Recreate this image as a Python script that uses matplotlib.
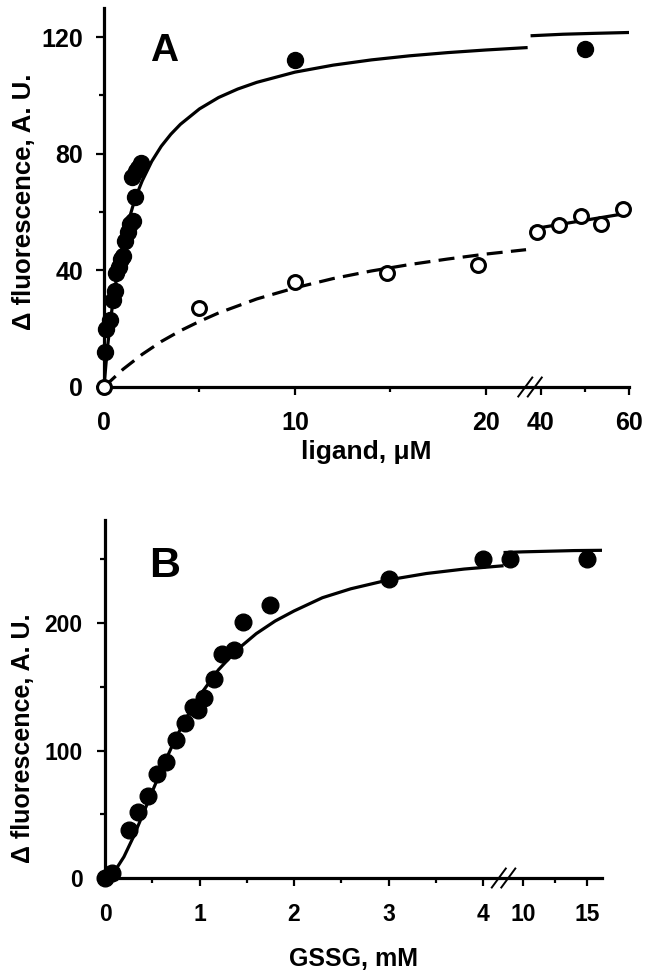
import numpy as np
import matplotlib
matplotlib.use("Agg")
import matplotlib.pyplot as plt
from matplotlib.ticker import FixedLocator, FixedFormatter

plt.rcParams['font.family'] = ['Liberation Sans', 'DejaVu Sans']
plt.rcParams['font.weight'] = 'bold'

# ---------------- Panel A data (ligand, uM) ----------------
xA_filled = [0.05, 0.1, 0.3, 0.45, 0.55, 0.65, 0.8, 0.9, 1.0, 1.1, 1.25, 1.35,
             1.5, 1.6, 1.45, 1.65, 1.8, 1.95, 10, 50]
yA_filled = [12, 20, 23, 30, 33, 39, 41, 44, 45, 50, 53, 56,
             57, 65, 72, 74, 75, 77, 112, 116]
xA_open = [0, 5, 10, 14.8, 19.6, 39, 44, 49, 53.6, 58.6]
yA_open = [0, 27, 36, 39, 42, 53, 55.5, 58.5, 56, 61]

# fitted curves
xA_fit1 = [0, 0.1, 0.2, 0.35, 0.5, 0.75, 1, 1.25, 1.5, 1.75, 2, 2.5, 3, 3.5, 4,
           5, 6, 7, 8, 10, 12, 14, 16, 18, 20, 22.1]
yA_fit1 = [0, 7.7, 14.5, 23.3, 30.8, 41.1, 49.4, 56.1, 61.8, 66.6, 70.7, 77.4,
           82.6, 86.7, 90.1, 95.4, 99.3, 102.2, 104.5, 108.0, 110.4, 112.2,
           113.6, 114.7, 115.6, 116.4]
xA_fit2 = [38, 45, 52, 60]
yA_fit2 = [120.5, 121.0, 121.3, 121.6]
xA_dash1 = [0, 1, 2, 3, 4, 5, 6, 8, 10, 12, 14, 16, 18, 20, 22.1]
yA_dash1 = [0, 6.1, 11.2, 15.6, 19.3, 22.5, 25.4, 30.2, 34.0, 37.2, 39.8,
            42.0, 43.9, 45.6, 47.1]
xA_line2 = [38, 60]
yA_line2 = [54.2, 59.7]

xA_ticks = [0, 10, 20, 40, 60]
xA_ticklabels = ['0', '10', '20', '40', '60']
xA_minor = [5, 15, 50]
yA_ticks = [0, 40, 80, 120]
yA_minor = [20, 60, 100]

# ---------------- Panel B data (GSSG, mM) ----------------
xB = [0, 0.07, 0.25, 0.35, 0.45, 0.55, 0.65, 0.75, 0.85, 0.93, 0.98, 1.05,
      1.15, 1.24, 1.36, 1.46, 1.75, 3.0, 4.0, 9.0, 15.0]
yB = [0, 4, 38, 52, 64, 82, 91, 108, 122, 134, 132, 141,
      156, 176, 179, 201, 214, 235, 250, 250, 250]
xB_fit1 = [0, 0.1, 0.2, 0.3, 0.4, 0.5, 0.6, 0.7, 0.8, 0.9, 1.0, 1.2, 1.4, 1.6,
           1.8, 2.0, 2.3, 2.6, 3.0, 3.4, 3.8, 4.2]
yB_fit1 = [0, 5, 16.6, 32.2, 49.8, 67.9, 85.5, 102, 117.2, 130.8, 143, 163.4,
           179.3, 191.8, 201.7, 209.6, 220, 227, 234, 239, 242.5, 245]
xB_fit2 = [8.6, 10, 12, 14, 16.1]
yB_fit2 = [255.5, 256, 256.5, 257, 257.2]

xB_ticks = [0, 1, 2, 3, 4, 10, 15]
xB_ticklabels = ['0', '1', '2', '3', '4', '10', '15']
xB_minor = [0.5, 1.5, 2.5, 3.5, 12.5]
yB_ticks = [0, 100, 200]
yB_minor = [50, 150, 250]

# broken-axis scale knots (data -> compressed axis units)
A_knots_x = [-1000, 22.2, 38, 1000]
A_knots_u = [-1000, 22.2, 22.42, 22.88 + 960 * 0.2305]
B_knots_x = [-1000, 4.2, 8.6, 1000]
B_knots_u = [-1000, 4.2, 4.233, 4.423 + 990 * 0.1354]


def broken_scale(ax, kx, ku):
    kx = np.asarray(kx, float)
    ku = np.asarray(ku, float)
    ax.set_xscale('function',
                  functions=(lambda x: np.interp(x, kx, ku),
                             lambda u: np.interp(u, ku, kx)))


def style(ax, xt, xtl, xm, yt, ym, xlim, ylim, fs, xpad, ypad):
    for s in ['top', 'right']:
        ax.spines[s].set_visible(False)
    for s in ['left', 'bottom']:
        ax.spines[s].set_linewidth(2.3)
    ax.set_xlim(*xlim)
    ax.set_ylim(*ylim)
    ax.xaxis.set_major_locator(FixedLocator(xt))
    ax.xaxis.set_major_formatter(FixedFormatter(xtl))
    ax.xaxis.set_minor_locator(FixedLocator(xm))
    ax.yaxis.set_major_locator(FixedLocator(yt))
    ax.yaxis.set_minor_locator(FixedLocator(ym))
    ax.tick_params(which='major', direction='out', length=6, width=1.6,
                   labelsize=fs)
    ax.tick_params(which='minor', direction='out', length=3.5, width=1.6)
    ax.tick_params(axis='x', which='major', pad=xpad)
    ax.tick_params(axis='y', which='major', pad=ypad)
    for lab in ax.get_xticklabels() + ax.get_yticklabels():
        lab.set_fontweight('bold')


def break_marks(ax, xgap, fig):
    fx = ax.transAxes.inverted().transform(ax.transData.transform((xgap, 0)))[0]
    pos = ax.get_position()
    wpx = pos.width * fig.get_figwidth() * fig.dpi
    hpx = pos.height * fig.get_figheight() * fig.dpi
    for off in (-4.75, 4.75):
        cx = fx + off / wpx
        ax.plot([cx - 7 / wpx, cx + 7 / wpx], [-9.5 / hpx, 9.5 / hpx],
                transform=ax.transAxes, color='k', lw=1.4, clip_on=False,
                zorder=6)


fig = plt.figure(figsize=(6.5, 9.75), dpi=100)
axA = fig.add_axes([104 / 650, 1 - 387 / 975, (629 - 104) / 650, (387 - 8) / 975])
axB = fig.add_axes([105 / 650, 1 - 878 / 975, (602 - 105) / 650, (878 - 520) / 975])

broken_scale(axA, A_knots_x, A_knots_u)
broken_scale(axB, B_knots_x, B_knots_u)

# ---- Panel A ----
lw = 2.3
axA.plot(xA_fit1, yA_fit1, color='k', lw=lw, zorder=2)
axA.plot(xA_fit2, yA_fit2, color='k', lw=lw, zorder=2)
axA.plot(xA_dash1, yA_dash1, color='k', lw=lw, ls=(0, (5, 2.6)), zorder=2)
axA.plot(xA_line2, yA_line2, color='k', lw=lw, zorder=2)
axA.plot(xA_filled, yA_filled, 'o', ms=11.5, color='k', zorder=4, clip_on=False)
axA.plot(xA_open, yA_open, 'o', ms=10, mfc='white', mec='k', mew=2.2,
         zorder=5, clip_on=False)
style(axA, xA_ticks, xA_ticklabels, xA_minor, yA_ticks, yA_minor,
      (0, 60), (0, 130), 18, 11, 9)
axA.set_xlabel('ligand, μM', fontsize=19, fontweight='bold', labelpad=4)
axA.set_ylabel('Δ fluorescence, A. U.', fontsize=18.5, fontweight='bold')
axA.yaxis.set_label_coords(-0.13, 0.49)
break_marks(axA, 30, fig)
fig.text(164 / 650, 1 - 61 / 975, 'A', fontsize=28, fontweight='bold',
         ha='center', va='baseline')

# ---- Panel B ----
axB.plot(xB_fit1, yB_fit1, color='k', lw=lw, zorder=2)
axB.plot(xB_fit2, yB_fit2, color='k', lw=lw, zorder=2)
axB.plot(xB, yB, 'o', ms=12, color='k', zorder=4, clip_on=False)
style(axB, xB_ticks, xB_ticklabels, xB_minor, yB_ticks, yB_minor,
      (0, 16.17), (0, 281), 16.5, 12, 10)
axB.set_xlabel('GSSG, mM', fontsize=18, fontweight='bold', labelpad=15)
axB.set_ylabel('Δ fluorescence, A. U.', fontsize=18, fontweight='bold')
axB.yaxis.set_label_coords(-0.14, 0.39)
break_marks(axB, 6.4, fig)
fig.text(165 / 650, 1 - 577 / 975, 'B', fontsize=31, fontweight='bold',
         ha='center', va='baseline')

fig.savefig('out.png', dpi=100)
